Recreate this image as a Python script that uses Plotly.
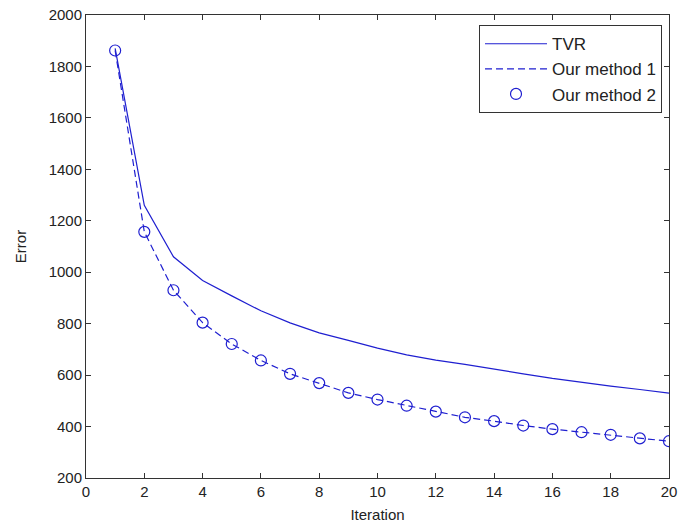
import plotly.graph_objects as go

iterations = list(range(1, 21))
tvr = [1870, 1260, 1060, 968, 908, 850, 803, 764, 735, 705, 679, 658, 642, 622, 605, 587, 571, 557, 544, 530]
method1 = [1862, 1157, 930, 804, 721, 657, 605, 569, 531, 505, 481, 458, 436, 421, 404, 390, 378, 368, 354, 343]
method2 = [1862, 1157, 930, 804, 721, 657, 605, 569, 531, 505, 481, 458, 436, 421, 404, 390, 378, 368, 354, 343]

x_ticks = list(range(0, 21, 2))
y_ticks = list(range(200, 2001, 200))

blue = "#1f1fd0"
fontfam = "Liberation Sans, Arial, sans-serif"

fig = go.Figure()
fig.add_trace(go.Scatter(x=iterations, y=tvr, mode="lines", name="TVR",
                         line=dict(color=blue, width=1.2)))
fig.add_trace(go.Scatter(x=iterations, y=method1, mode="lines", name="Our method 1",
                         line=dict(color=blue, width=1.2, dash="7px,4px")))
fig.add_trace(go.Scatter(x=iterations, y=method2, mode="markers", name="Our method 2",
                         marker=dict(symbol="circle-open", size=11, color=blue,
                                     line=dict(width=1.2, color=blue))))

axis_common = dict(showgrid=False, zeroline=False, showline=True, linecolor="#333333",
                   linewidth=1, mirror="ticks", ticks="inside", ticklen=5,
                   tickcolor="#333333", automargin=False,
                   tickfont=dict(family=fontfam, size=15, color="#222222"))

fig.update_xaxes(range=[0, 20], tickvals=x_ticks, ticktext=[str(v) for v in x_ticks],
                 title=dict(text="Iteration", font=dict(family=fontfam, size=15, color="#222222"),
                            standoff=10),
                 **axis_common)
fig.update_yaxes(range=[200, 2000], tickvals=y_ticks, ticktext=[str(v) for v in y_ticks],
                 title=dict(text="Error", font=dict(family=fontfam, size=15, color="#222222"),
                            standoff=18),
                 **axis_common)

fig.update_layout(
    width=680, height=529,
    margin=dict(l=86, r=11, t=15, b=51),
    paper_bgcolor="white", plot_bgcolor="white",
    showlegend=True,
    legend=dict(x=0.988, y=0.978, xanchor="right", yanchor="top",
                bordercolor="#333333", borderwidth=1, bgcolor="white",
                font=dict(family=fontfam, size=17, color="#222222"),
                tracegroupgap=0, itemwidth=62),
)

fig.write_html("out.html", config={"displayModeBar": False},
               post_script="document.body.style.margin='0';document.body.style.overflow='hidden';")
